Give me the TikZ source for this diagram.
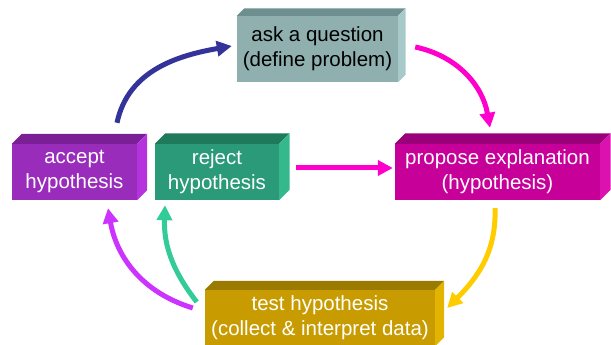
\documentclass[tikz,border=0pt]{standalone}
\usepackage{fontspec}
\setmainfont{Liberation Sans}
\usetikzlibrary{calc,arrows.meta}
\definecolor{askF}{HTML}{90B0B0}\definecolor{askT}{HTML}{6E8F8F}\definecolor{askS}{HTML}{A8C9C9}
\definecolor{accF}{HTML}{9A2CBC}\definecolor{accT}{HTML}{7A1F96}\definecolor{accS}{HTML}{B532DF}
\definecolor{rejF}{HTML}{2A9A78}\definecolor{rejT}{HTML}{1F7A5C}\definecolor{rejS}{HTML}{35B88C}
\definecolor{proF}{HTML}{C8009A}\definecolor{proT}{HTML}{99007A}\definecolor{proS}{HTML}{DB12AD}
\definecolor{tesF}{HTML}{C89C00}\definecolor{tesT}{HTML}{9A7A00}\definecolor{tesS}{HTML}{E2B400}
\definecolor{navyA}{HTML}{333399}\definecolor{magA}{HTML}{FF00CC}\definecolor{goldA}{HTML}{FFCC00}
\definecolor{purA}{HTML}{CC33FF}\definecolor{tealA}{HTML}{33CC99}
\newcommand\boxfaces[4]{%
  \fill[#3] (#1.north west) -- ++(#2,#2) -- ($(#1.north east)+(#2,#2)$) -- (#1.north east) -- cycle;
  \fill[#4] (#1.north east) -- ++(#2,#2) -- ($(#1.south east)+(#2,#2)$) -- (#1.south east) -- cycle;}
\tikzset{
  cube/.style={rectangle, inner sep=0pt, align=center, text=white,
    font=\fontsize{20.5}{25}\selectfont},
  arr/.style={line width=5pt, -{Triangle[length=15pt,width=15pt]}}
}
\begin{document}
\begin{tikzpicture}[x=1pt,y=1pt]
\useasboundingbox (0,0) rectangle (611,345);
\node[cube, text=black, fill=askF, minimum width=161pt, minimum height=66pt] (ask) at (317.5,296) {ask a question\\(define problem)};
\boxfaces{ask}{7.5}{askT}{askS}
\node[cube, fill=accF, minimum width=125pt, minimum height=56pt] (acc) at (74.5,173) {accept\\hypothesis};
\boxfaces{acc}{10}{accT}{accS}
\node[cube, fill=rejF, minimum width=124pt, minimum height=56pt] (rej) at (217,173) {reject\\hypothesis};
\boxfaces{rej}{10.5}{rejT}{rejS}
\node[cube, fill=proF, minimum width=205pt, minimum height=56pt] (pro) at (497.5,173) {propose explanation\\(hypothesis)};
\boxfaces{pro}{10.5}{proT}{proS}
\node[cube, fill=tesF, minimum width=230pt, minimum height=56pt] (tes) at (320,27) {test hypothesis\\(collect \& interpret data)};
\boxfaces{tes}{9}{tesT}{tesS}
\draw[arr, navyA] ($(acc.north)+(42.5,21)$) to[out=78, in=190] ($(ask.west)+(-5,3)$);
\draw[arr, magA] ($(ask.east)+(17,2)$) to[out=-12, in=100] ($(pro.north)+(-7.5,16)$);
\draw[arr, magA] ($(rej.east)+(17,4)$) -- ($(pro.west)+(-2,4)$);
\draw[arr, goldA] ($(pro.south)+(-2.5,-8)$) to[out=-88, in=45] ($(tes.east)+(12,10)$);
\draw[arr, purA] ($(tes.west)+(-12,10)$) to[out=163, in=-80] ($(acc.south)+(33.5,-8)$);
\draw[arr, tealA] ($(tes.west)+(-8,16)$) to[out=128, in=-92] ($(rej.south)+(-52,-5)$);
\end{tikzpicture}
\end{document}
